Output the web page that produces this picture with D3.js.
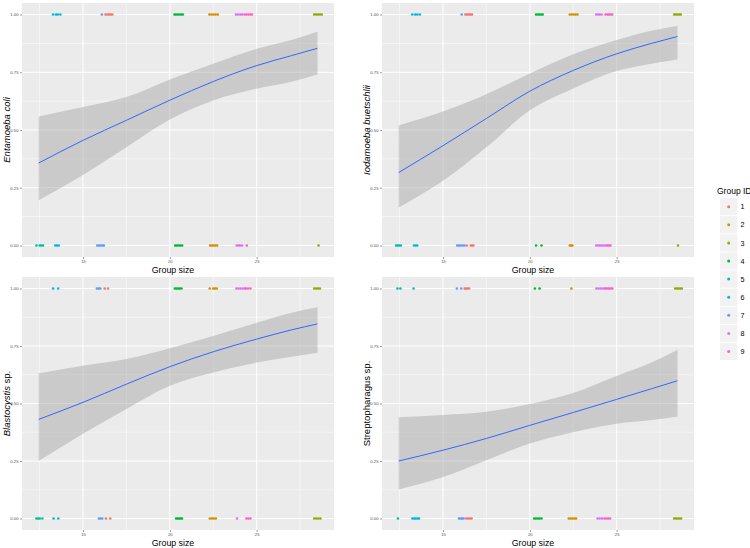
<!DOCTYPE html>
<html><head><meta charset="utf-8">
<script src="https://cdn.jsdelivr.net/npm/d3@7"></script>
<style>body{margin:0;background:#fff}svg{display:block;font-family:"Liberation Sans",Arial,sans-serif}</style>
</head><body><svg id="c" width="750" height="548"></svg>
<script>
// ---------- data ----------
const groupIds = ["1","2","3","4","5","6","7","8","9"];
const groupColors = ["#F8766D","#D39200","#93AA00","#00BA38","#00C19F","#00B9E3","#619CFF","#DB72FB","#FF61C3"];
const xTicks = [15, 20, 25];
const yTicks = [0, 0.25, 0.5, 0.75, 1];
const yTickLabels = ["0.00","0.25","0.50","0.75","1.00"];

// smooth (fitted) curves
const fitX = [12.45, 15, 17.5, 20, 22.5, 25, 27, 28.5];
const entFit = [0.357, 0.455, 0.542, 0.629, 0.710, 0.779, 0.822, 0.854];
const entHi  = [0.559, 0.600, 0.643, 0.719, 0.787, 0.852, 0.890, 0.926];
const entLo  = [0.196, 0.305, 0.425, 0.545, 0.628, 0.679, 0.709, 0.740];
const iodFit = [0.316, 0.432, 0.550, 0.668, 0.758, 0.830, 0.875, 0.905];
const iodHi  = [0.520, 0.580, 0.655, 0.745, 0.828, 0.890, 0.930, 0.952];
const iodLo  = [0.164, 0.280, 0.425, 0.585, 0.680, 0.755, 0.787, 0.805];
const blaFit = [0.431, 0.505, 0.584, 0.660, 0.725, 0.780, 0.820, 0.846];
const blaHi  = [0.632, 0.664, 0.693, 0.740, 0.794, 0.851, 0.895, 0.919];
const blaLo  = [0.250, 0.368, 0.476, 0.577, 0.635, 0.678, 0.703, 0.721];
const strFit = [0.250, 0.297, 0.348, 0.405, 0.461, 0.518, 0.564, 0.599];
const strHi  = [0.440, 0.450, 0.464, 0.498, 0.546, 0.620, 0.678, 0.734];
const strLo  = [0.126, 0.180, 0.253, 0.326, 0.375, 0.412, 0.428, 0.444];

// jittered group sizes of individuals, per group ID ("1".."9"), with parasite present (1) / absent (0)
const entPresent = {"6":[13.28,13.45,13.55,13.70],"7":[16.09],"1":[16.30,16.40,16.50,16.60,16.69],"4":[20.27,20.35,20.45,20.55,20.65,20.75],"2":[22.28,22.40,22.52,22.64,22.76],"8":[23.81,23.92,24.05,24.15],"9":[24.29,24.40,24.52,24.63,24.73],"3":[28.31,28.42,28.53,28.64,28.75]};
const entAbsent  = {"5":[12.32,12.51,12.60,12.70],"6":[13.41,13.50,13.60],"7":[15.82,15.92,16.02,16.12,16.20],"4":[20.31,20.41,20.51,20.61,20.71],"2":[22.32,22.42,22.52,22.62,22.72],"8":[23.85,23.95,24.04,24.16],"9":[24.43],"3":[28.56]};
const iodPresent = {"6":[13.23,13.40,13.52,13.67],"7":[16.08],"1":[16.29,16.39,16.48,16.58,16.67],"4":[20.36,20.46,20.55,20.65,20.74],"2":[22.30,22.41,22.52,22.63,22.74],"8":[23.82,23.92,24.02,24.13],"9":[24.36,24.46,24.55,24.65,24.74],"3":[28.31,28.40,28.50,28.60,28.69]};
const iodAbsent  = {"5":[12.30,12.39,12.48,12.57],"6":[13.33,13.43,13.52],"7":[15.82,15.92,16.02,16.13,16.23],"1":[16.37,16.60,16.68,16.75],"4":[20.36,20.67],"2":[22.30,22.38,22.45],"8":[23.82,23.93,24.04,24.15,24.25,24.36],"9":[24.45,24.55,24.64],"3":[28.53]};
const blaPresent = {"6":[13.28,13.57],"7":[15.80,15.90,16.00],"1":[16.25,16.44],"4":[20.29,20.38,20.48,20.58,20.67],"2":[22.30,22.50,22.60,22.70],"8":[23.83,23.95,24.07,24.19,24.31],"9":[24.37,24.50,24.64],"3":[28.31,28.42,28.53,28.64]};
const blaAbsent  = {"5":[12.32,12.42,12.51,12.66],"6":[13.31,13.58],"7":[15.92,16.01,16.11],"1":[16.32,16.57],"4":[20.36,20.45,20.53,20.62,20.70],"2":[22.30,22.42,22.53,22.65],"8":[23.87],"9":[24.41,24.52,24.64],"3":[28.31,28.43,28.55,28.67]};
const strPresent = {"5":[12.38,12.55],"6":[13.31],"7":[15.80,16.05],"1":[16.25,16.33,16.42,16.50],"4":[20.29,20.56],"2":[22.39],"8":[23.83,23.95,24.07,24.19,24.30],"9":[24.37,24.47,24.56,24.66,24.75],"3":[28.37,28.47,28.56,28.66,28.75]};
const strAbsent  = {"5":[12.41],"6":[13.24,13.34,13.43,13.53,13.62],"7":[15.92,16.01,16.10,16.19],"1":[16.34,16.44,16.55,16.65],"4":[20.25,20.35,20.46,20.56,20.67],"2":[22.24,22.35,22.45,22.56,22.66],"8":[23.90,24.02,24.15],"9":[24.29,24.40,24.51,24.62],"3":[28.31,28.41,28.51,28.61,28.71]};

const panels = [
  {title:[["Entamoeba coli",true]], fit:entFit, hi:entHi, lo:entLo, pres:entPresent, abs:entAbsent, x0:22, x1:334, y0:3, y1:257},
  {title:[["Iodamoeba buetschlii",true]], fit:iodFit, hi:iodHi, lo:iodLo, pres:iodPresent, abs:iodAbsent, x0:382, x1:694, y0:3, y1:257},
  {title:[["Blastocystis",true],[" sp.",false]], fit:blaFit, hi:blaHi, lo:blaLo, pres:blaPresent, abs:blaAbsent, x0:22, x1:334, y0:277, y1:530},
  {title:[["Streptopharagus",false],[" sp.",false]], fit:strFit, hi:strHi, lo:strLo, pres:strPresent, abs:strAbsent, x0:382, x1:694, y0:277, y1:530}
];

// ---------- drawing ----------
const svg = d3.select("#c");
const color = d3.scaleOrdinal().domain(groupIds).range(groupColors);

panels.forEach(p => {
  const x = d3.scaleLinear().domain([11.49, 29.45]).range([p.x0, p.x1]);
  const y = d3.scaleLinear().domain([-0.05, 1.05]).range([p.y1, p.y0]);
  const g = svg.append("g");
  g.append("rect").attr("x", p.x0).attr("y", p.y0).attr("width", p.x1 - p.x0).attr("height", p.y1 - p.y0).attr("fill", "#EBEBEB");
  // minor grid
  const xMinor = [12.5, 17.5, 22.5, 27.5], yMinor = [0.125, 0.375, 0.625, 0.875];
  g.selectAll(".vxm").data(xMinor).join("line").attr("x1", d => x(d)).attr("x2", d => x(d)).attr("y1", p.y0).attr("y2", p.y1).attr("stroke", "#fff").attr("stroke-width", 0.5);
  g.selectAll(".hym").data(yMinor).join("line").attr("y1", d => y(d)).attr("y2", d => y(d)).attr("x1", p.x0).attr("x2", p.x1).attr("stroke", "#fff").attr("stroke-width", 0.5);
  g.selectAll(".vx").data(xTicks).join("line").attr("x1", d => x(d)).attr("x2", d => x(d)).attr("y1", p.y0).attr("y2", p.y1).attr("stroke", "#fff").attr("stroke-width", 1);
  g.selectAll(".hy").data(yTicks).join("line").attr("y1", d => y(d)).attr("y2", d => y(d)).attr("x1", p.x0).attr("x2", p.x1).attr("stroke", "#fff").attr("stroke-width", 1);

  // points
  const pts = [];
  groupIds.forEach(id => {
    (p.pres[id] || []).forEach(v => pts.push({g:id, x:v, y:1}));
    (p.abs[id] || []).forEach(v => pts.push({g:id, x:v, y:0}));
  });
  g.selectAll(".pt").data(pts).join("circle").attr("cx", d => x(d.x)).attr("cy", d => y(d.y)).attr("r", 1.3).attr("fill", d => color(d.g));

  // ribbon + line
  const rows = fitX.map((v, i) => ({x:v, f:p.fit[i], hi:p.hi[i], lo:p.lo[i]}));
  g.append("path").datum(rows).attr("d", d3.area().x(d => x(d.x)).y0(d => y(d.lo)).y1(d => y(d.hi)).curve(d3.curveMonotoneX)).attr("fill", "#999999").attr("fill-opacity", 0.4);
  g.append("path").datum(rows).attr("d", d3.line().x(d => x(d.x)).y(d => y(d.f)).curve(d3.curveMonotoneX)).attr("fill", "none").attr("stroke", "#3366FF").attr("stroke-width", 1);

  // axes
  const ax = g.append("g").attr("transform", `translate(0,${p.y1})`).call(d3.axisBottom(x).tickValues(xTicks).tickSize(2).tickPadding(1));
  const ay = g.append("g").attr("transform", `translate(${p.x0},0)`).call(d3.axisLeft(y).tickValues(yTicks).tickFormat((d, i) => yTickLabels[i]).tickSize(2).tickPadding(1.5));
  [ax, ay].forEach(a => {
    a.select(".domain").remove();
    a.selectAll("line").attr("stroke", "#333333").attr("stroke-width", 0.5);
    a.selectAll("text").attr("fill", "#4D4D4D").style("font-size", "4.2px").style("font-family", "Liberation Sans, Arial, sans-serif");
  });

  // axis titles
  g.append("text").attr("x", (p.x0 + p.x1) / 2 - 5).attr("y", p.y1 + 15.5).attr("text-anchor", "middle").style("font-size", "8.8px").attr("fill", "#000").text("Group size");
  const t = g.append("text").attr("transform", `translate(${p.x0 - 12},${(p.y0 + p.y1) / 2}) rotate(-90)`).attr("text-anchor", "middle").style("font-size", "9.5px").attr("fill", "#000");
  p.title.forEach(([s, it]) => t.append("tspan").style("font-style", it ? "italic" : "normal").text(s));
});

// legend
const lg = svg.append("g");
lg.append("text").attr("x", 717).attr("y", 194).style("font-size", "8.5px").attr("fill", "#000").text("Group ID");
groupIds.forEach((id, i) => {
  const cy = 206.7 + i * 18.1;
  lg.append("rect").attr("x", 720).attr("y", cy - 8.6).attr("width", 17.4).attr("height", 17.2).attr("fill", "#F2F2F2");
  lg.append("circle").attr("cx", 728.7).attr("cy", cy).attr("r", 1.5).attr("fill", color(id));
  lg.append("text").attr("x", 740.5).attr("y", cy + 2.6).style("font-size", "7.2px").attr("fill", "#000").text(id);
});
</script></body></html>
